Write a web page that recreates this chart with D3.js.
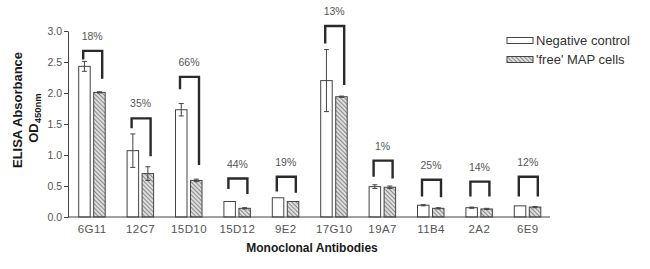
<!DOCTYPE html>
<html>
<head>
<meta charset="utf-8">
<script src="https://cdn.jsdelivr.net/npm/d3@7"></script>
<style>
  html, body { margin: 0; padding: 0; background: #fff; }
  svg { display: block; font-family: "Liberation Sans", Arial, sans-serif; }
</style>
</head>
<body>
<svg id="chart" width="650" height="269"></svg>
<script>
const categories = ["6G11","12C7","15D10","15D12","9E2","17G10","19A7","11B4","2A2","6E9"];
const negMean = [2.43, 1.07, 1.73, 0.25, 0.31, 2.20, 0.49, 0.19, 0.15, 0.18];
const negErr  = [0.08, 0.27, 0.10, 0.00, 0.00, 0.50, 0.03, 0.01, 0.01, 0.00];
const mapMean = [2.01, 0.70, 0.59, 0.14, 0.25, 1.94, 0.48, 0.14, 0.13, 0.16];
const mapErr  = [0.01, 0.11, 0.02, 0.01, 0.00, 0.01, 0.02, 0.01, 0.01, 0.01];
const pctLabels = ["18%","35%","66%","44%","19%","13%","1%","25%","14%","12%"];
const bracketTop   = [2.68, 1.59, 2.26, 0.62, 0.65, 3.08, 0.91, 0.60, 0.57, 0.65];
const bracketLeft  = [2.54, 1.43, 2.06, 0.45, 0.41, 2.80, 0.65, 0.33, 0.33, 0.33];
const bracketRight = [2.23, 0.98, 0.84, 0.37, 0.39, 2.13, 0.62, 0.32, 0.33, 0.33];
const yTicks = [0, 0.5, 1.0, 1.5, 2.0, 2.5, 3.0];
const seriesNames = ["Negative control", "'free' MAP cells"];

const svg = d3.select("#chart");
const x = d3.scaleBand().domain(categories).range([68, 552]);
const y = d3.scaleLinear().domain([0, 3]).range([217, 31]);
const cx = c => x(c) + x.bandwidth() / 2;

// hatch pattern
const defs = svg.append("defs");
const pat = defs.append("pattern").attr("id", "hatch").attr("patternUnits", "userSpaceOnUse")
  .attr("width", 3).attr("height", 3).attr("patternTransform", "rotate(-45)");
pat.append("rect").attr("width", 3).attr("height", 3).attr("fill", "#dcdcdc");
pat.append("line").attr("x1", 0).attr("y1", 0).attr("x2", 0).attr("y2", 3)
  .attr("stroke", "#6a6a6a").attr("stroke-width", 1.4);

const barW = 11.5;
const negX = c => cx(c) - 13.5;
const mapX = c => cx(c) + 1.5;

const g = svg.append("g");
// bars
g.selectAll("rect.neg").data(categories).join("rect").attr("class", "neg")
  .attr("x", c => negX(c)).attr("width", barW)
  .attr("y", (c, i) => y(negMean[i])).attr("height", (c, i) => y(0) - y(negMean[i]))
  .attr("fill", "#fff").attr("stroke", "#444").attr("stroke-width", 1);
g.selectAll("rect.map").data(categories).join("rect").attr("class", "map")
  .attr("x", c => mapX(c)).attr("width", barW)
  .attr("y", (c, i) => y(mapMean[i])).attr("height", (c, i) => y(0) - y(mapMean[i]))
  .attr("fill", "url(#hatch)").attr("stroke", "#444").attr("stroke-width", 1);

// error bars
function errBars(xf, mean, err) {
  categories.forEach((c, i) => {
    if (err[i] <= 0) return;
    const xm = xf(c) + barW / 2;
    const y1 = y(mean[i] + err[i]), y2 = y(mean[i] - err[i]);
    g.append("line").attr("x1", xm).attr("x2", xm).attr("y1", y1).attr("y2", y2)
      .attr("stroke", "#444").attr("stroke-width", 1);
    [y1, y2].forEach(yy => g.append("line").attr("x1", xm - 2.5).attr("x2", xm + 2.5)
      .attr("y1", yy).attr("y2", yy).attr("stroke", "#444").attr("stroke-width", 1));
  });
}
errBars(negX, negMean, negErr);
errBars(mapX, mapMean, mapErr);

// brackets
categories.forEach((c, i) => {
  const xl = cx(c) - 9, xr = cx(c) + 10;
  g.append("path")
    .attr("d", `M${xl},${y(bracketLeft[i])}V${y(bracketTop[i])}H${xr}V${y(bracketRight[i])}`)
    .attr("fill", "none").attr("stroke", "#2a2a2a").attr("stroke-width", 2.4);
  g.append("text").attr("x", cx(c)).attr("y", y(bracketTop[i]) - 11)
    .attr("text-anchor", "middle").attr("font-size", 10.5).attr("fill", "#555")
    .text(pctLabels[i]);
});

// y axis
const yAxis = svg.append("g").attr("transform", "translate(68,0)")
  .call(d3.axisLeft(y).tickValues(yTicks).tickFormat(d3.format(".1f")).tickSize(4).tickSizeOuter(0));
yAxis.select(".domain").attr("stroke", "#444");
yAxis.selectAll(".tick line").attr("stroke", "#444");
yAxis.selectAll(".tick text").attr("font-size", 10.5).attr("fill", "#555").attr("x", -6)
  .attr("font-family", "Liberation Sans, Arial, sans-serif");

// x axis
const xAxis = svg.append("g").attr("transform", "translate(0,217)")
  .call(d3.axisBottom(x).tickSize(0).tickSizeOuter(0));
xAxis.select(".domain").attr("stroke", "#444").attr("d", "M68,0H550");
xAxis.selectAll(".tick text").attr("font-size", 11.5).attr("fill", "#555").attr("dy", "0.71em").attr("y", 8)
  .attr("letter-spacing", 0.4)
  .attr("font-family", "Liberation Sans, Arial, sans-serif");

// axis titles
svg.append("text").attr("x", 312).attr("y", 252).attr("text-anchor", "middle")
  .attr("font-size", 12).attr("font-weight", "bold").attr("fill", "#1a1a1a").text("Monoclonal Antibodies");
svg.append("text").attr("transform", "translate(22,110) rotate(-90)").attr("text-anchor", "middle")
  .attr("font-size", 13).attr("font-weight", "bold").attr("fill", "#1a1a1a").text("ELISA Absorbance");
const od = svg.append("text").attr("transform", "translate(38,118) rotate(-90)").attr("text-anchor", "middle")
  .attr("font-size", 13).attr("font-weight", "bold").attr("fill", "#1a1a1a");
od.append("tspan").text("OD");
od.append("tspan").attr("font-size", 9.5).attr("dy", 3).text("450nm");

// legend
const leg = svg.append("g");
seriesNames.forEach((name, i) => {
  const yy = 37.5 + i * 19;
  leg.append("rect").attr("x", 507).attr("y", yy).attr("width", 26).attr("height", 6)
    .attr("fill", i === 0 ? "#fff" : "url(#hatch)").attr("stroke", "#444").attr("stroke-width", 1);
  leg.append("text").attr("x", 536).attr("y", yy + 7.5).attr("font-size", 13).attr("fill", "#333").text(name);
});
</script>
</body>
</html>
